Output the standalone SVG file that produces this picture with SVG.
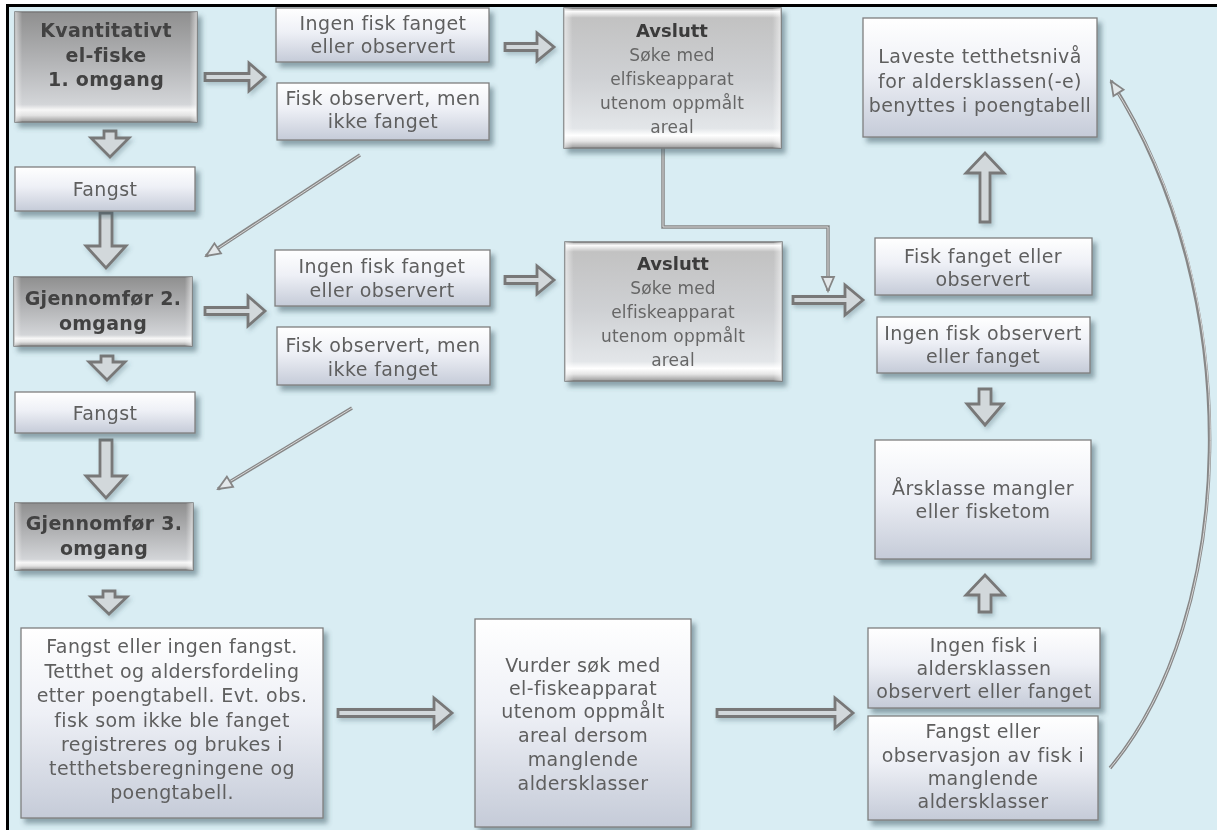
<svg xmlns="http://www.w3.org/2000/svg" width="1217" height="830" viewBox="0 0 1217 830">
<defs>
<style>
.t{font-family:"DejaVu Sans",Verdana,sans-serif;font-size:19px;fill:#5e5e5e;text-anchor:middle;letter-spacing:0.4px}
.b{font-family:"DejaVu Sans",Verdana,sans-serif;font-size:19px;font-weight:bold;fill:#424242;text-anchor:middle;letter-spacing:0.3px}
.a{font-family:"DejaVu Sans",Verdana,sans-serif;font-size:17px;fill:#666;text-anchor:middle;letter-spacing:0.2px}
.ab{font-family:"DejaVu Sans",Verdana,sans-serif;font-size:18px;font-weight:bold;fill:#3a3a3a;text-anchor:middle}
.lb{fill:url(#gLight);stroke:#7f7f7f;stroke-width:1.3}
.db{fill:url(#gDark);stroke:#7a7a7a;stroke-width:1.5}
.av{fill:url(#gAvs);stroke:#7a7a7a;stroke-width:1.5}
.side{fill:url(#gSide)}
.arw{fill:#d2d8db;stroke:#787878;stroke-width:2.8;stroke-linejoin:miter}
.ln1{fill:none;stroke:#878787;stroke-width:3.5}
.ln2{fill:none;stroke:#d8d8d8;stroke-width:1}
.mk{fill:none;stroke:none}
</style>
<linearGradient id="gLight" x1="0" y1="0" x2="0" y2="1">
<stop offset="0" stop-color="#ffffff"/>
<stop offset="0.45" stop-color="#eef0f6"/>
<stop offset="1" stop-color="#c5cbd8"/>
</linearGradient>
<linearGradient id="gDark" x1="0" y1="0" x2="0" y2="1">
<stop offset="0" stop-color="#8f8f8f"/>
<stop offset="0.45" stop-color="#b3b4b6"/>
<stop offset="0.84" stop-color="#d3d5d8"/>
<stop offset="0.89" stop-color="#f7f7f7"/>
<stop offset="0.94" stop-color="#e2e2e2"/>
<stop offset="1" stop-color="#9a9a9a"/>
</linearGradient>
<linearGradient id="gAvs" x1="0" y1="0" x2="0" y2="1">
<stop offset="0" stop-color="#a8a8a8"/>
<stop offset="0.025" stop-color="#fafafa"/>
<stop offset="0.07" stop-color="#c2c2c2"/>
<stop offset="0.5" stop-color="#cfd1d4"/>
<stop offset="0.86" stop-color="#e3e6e9"/>
<stop offset="0.91" stop-color="#ffffff"/>
<stop offset="0.95" stop-color="#e6e6e6"/>
<stop offset="1" stop-color="#9a9a9a"/>
</linearGradient>
<linearGradient id="gSide" x1="0" y1="0" x2="1" y2="0">
<stop offset="0" stop-color="#ffffff" stop-opacity="0.55"/>
<stop offset="0.04" stop-color="#ffffff" stop-opacity="0"/>
<stop offset="0.96" stop-color="#ffffff" stop-opacity="0"/>
<stop offset="1" stop-color="#ffffff" stop-opacity="0.55"/>
</linearGradient>
<filter id="sh" x="-10%" y="-10%" width="130%" height="130%">
<feGaussianBlur in="SourceAlpha" stdDeviation="2.5"/>
<feOffset dx="4" dy="5" result="o"/>
<feFlood flood-color="#3d5963" flood-opacity="0.5"/>
<feComposite in2="o" operator="in"/>
<feMerge><feMergeNode/><feMergeNode in="SourceGraphic"/></feMerge>
</filter>
<filter id="ash" x="-20%" y="-20%" width="150%" height="150%">
<feGaussianBlur in="SourceAlpha" stdDeviation="2"/>
<feOffset dx="2" dy="3" result="o"/>
<feFlood flood-color="#3d5963" flood-opacity="0.3"/>
<feComposite in2="o" operator="in"/>
<feMerge><feMergeNode/><feMergeNode in="SourceGraphic"/></feMerge>
</filter>
<marker id="tri" markerUnits="userSpaceOnUse" markerWidth="18" markerHeight="16" viewBox="0 0 18 16" refX="16" refY="8" orient="auto">
<path d="M2,2 L16,8 L2,14 Z" fill="#e3e8ea" stroke="#858585" stroke-width="1.8"/>
</marker>
</defs>
<rect x="0" y="0" width="1217" height="830" fill="#ffffff"/>
<rect x="9" y="7" width="1208" height="823" fill="#d9edf3"/>
<rect x="6" y="4" width="1211" height="3" fill="#000"/>
<rect x="6" y="4" width="3" height="826" fill="#000"/>

<g id="connectors">
<g filter="url(#ash)">
<path class="arw" d="M205,73.5 H249 V63 L265,77 L249,91 V80.5 H205 Z"/>
<path class="arw" d="M505,43.5 H537 V33 L554,47 L537,61 V50.5 H505 Z"/>
<path class="arw" d="M205,307.5 H248 V296 L265,311 L248,326 V314.5 H205 Z"/>
<path class="arw" d="M505,276.5 H537 V266 L554,280 L537,294 V283.5 H505 Z"/>
<path class="arw" d="M793,296.5 H845 V285 L863,300 L845,315 V303.5 H793 Z"/>
<path class="arw" d="M338,709.5 H434 V698 L452,713 L434,728 V716.5 H338 Z"/>
<path class="arw" d="M717,709.5 H835 V698 L853,713 L835,728 V716.5 H717 Z"/>
<path class="arw" d="M104,131 V138 H91 L110,157 L129,138 H116 V131 Z"/>
<path class="arw" d="M100,213 V246 H86 L106,268 L126,246 H112 V213 Z"/>
<path class="arw" d="M101,356 V362 H89 L107,380 L125,362 H113 V356 Z"/>
<path class="arw" d="M100,440 V476 H86 L106,498 L126,476 H112 V440 Z"/>
<path class="arw" d="M103,591 V597 H91 L109,614 L127,597 H115 V591 Z"/>
<path class="arw" d="M979,389 V404 H967 L985,425 L1003,404 H991 V389 Z"/>
<path class="arw" d="M979,612 V595 H966 L985,575 L1004,595 H991 V612 Z"/>
<path class="arw" d="M980,222 V173 H966 L985,153 L1004,173 H990 V222 Z"/>
</g>
<path class="ln1" d="M360,155 L206,256"/>
<path class="ln2" d="M360,155 L214,251"/>
<path class="mk" d="M360,155 L206,256" marker-end="url(#tri)"/>
<path class="ln1" d="M352,408 L218,489"/>
<path class="ln2" d="M352,408 L226,484"/>
<path class="mk" d="M352,408 L218,489" marker-end="url(#tri)"/>
<path class="ln1" d="M663,148 V227 H828 V291"/>
<path class="ln2" d="M663,148 V227 H828 V283"/>
<path class="mk" d="M663,148 V227 H828 V291" marker-end="url(#tri)"/>
<path class="ln1" d="M1110,768 C1235,620 1250,300 1111,81"/>
<path class="ln2" d="M1110,768 C1235,620 1250,300 1116,90"/>
<path class="mk" d="M1110,768 C1235,620 1250,300 1111,81" marker-end="url(#tri)"/>
</g>

<g id="n1" filter="url(#sh)">
<rect class="db" x="15" y="12" width="182" height="110"/>
<rect class="side" x="15" y="12" width="182" height="110"/>
<text class="b" x="106" y="37">Kvantitativt</text>
<text class="b" x="106" y="62">el-fiske</text>
<text class="b" x="106" y="86">1. omgang</text>
</g>
<g id="n2" filter="url(#sh)">
<rect class="lb" x="276" y="8" width="213" height="54"/>
<text class="t" x="383" y="30">Ingen fisk fanget</text>
<text class="t" x="383" y="53">eller observert</text>
</g>
<g id="n3" filter="url(#sh)">
<rect class="lb" x="277" y="83" width="212" height="57"/>
<text class="t" x="383" y="105">Fisk observert, men</text>
<text class="t" x="383" y="128">ikke fanget</text>
</g>
<g id="n4" filter="url(#sh)">
<rect class="av" x="564" y="8" width="217" height="140"/>
<rect class="side" x="564" y="8" width="217" height="140"/>
<text class="ab" x="672" y="37">Avslutt</text>
<text class="a" x="672" y="61">Søke med</text>
<text class="a" x="672" y="85">elfiskeapparat</text>
<text class="a" x="672" y="109">utenom oppmålt</text>
<text class="a" x="672" y="133">areal</text>
</g>
<g id="n5" filter="url(#sh)">
<rect class="lb" x="863" y="18" width="234" height="119"/>
<text class="t" x="980" y="63">Laveste tetthetsnivå</text>
<text class="t" x="980" y="88">for aldersklassen(-e)</text>
<text class="t" x="980" y="112">benyttes i poengtabell</text>
</g>
<g id="n6" filter="url(#sh)">
<rect class="lb" x="15" y="167" width="180" height="44"/>
<text class="t" x="105" y="196">Fangst</text>
</g>
<g id="n7" filter="url(#sh)">
<rect class="db" x="14" y="277" width="178" height="69"/>
<rect class="side" x="14" y="277" width="178" height="69"/>
<text class="b" x="103" y="305">Gjennomfør 2.</text>
<text class="b" x="103" y="330">omgang</text>
</g>
<g id="n8" filter="url(#sh)">
<rect class="lb" x="275" y="250" width="215" height="56"/>
<text class="t" x="382" y="273">Ingen fisk fanget</text>
<text class="t" x="382" y="297">eller observert</text>
</g>
<g id="n9" filter="url(#sh)">
<rect class="lb" x="277" y="327" width="213" height="58"/>
<text class="t" x="383" y="352">Fisk observert, men</text>
<text class="t" x="383" y="376">ikke fanget</text>
</g>
<g id="n10" filter="url(#sh)">
<rect class="av" x="565" y="242" width="217" height="139"/>
<rect class="side" x="565" y="242" width="217" height="139"/>
<text class="ab" x="673" y="270">Avslutt</text>
<text class="a" x="673" y="294">Søke med</text>
<text class="a" x="673" y="318">elfiskeapparat</text>
<text class="a" x="673" y="342">utenom oppmålt</text>
<text class="a" x="673" y="366">areal</text>
</g>
<g id="n11" filter="url(#sh)">
<rect class="lb" x="875" y="238" width="217" height="57"/>
<text class="t" x="983" y="263">Fisk fanget eller</text>
<text class="t" x="983" y="286">observert</text>
</g>
<g id="n12" filter="url(#sh)">
<rect class="lb" x="877" y="317" width="213" height="56"/>
<text class="t" x="983" y="340">Ingen fisk observert</text>
<text class="t" x="983" y="363">eller fanget</text>
</g>
<g id="n13" filter="url(#sh)">
<rect class="lb" x="875" y="440" width="216" height="119"/>
<text class="t" x="983" y="495">Årsklasse mangler</text>
<text class="t" x="983" y="518">eller fisketom</text>
</g>
<g id="n14" filter="url(#sh)">
<rect class="lb" x="15" y="392" width="180" height="41"/>
<text class="t" x="105" y="420">Fangst</text>
</g>
<g id="n15" filter="url(#sh)">
<rect class="db" x="15" y="503" width="178" height="67"/>
<rect class="side" x="15" y="503" width="178" height="67"/>
<text class="b" x="104" y="530">Gjennomfør 3.</text>
<text class="b" x="104" y="555">omgang</text>
</g>
<g id="n16" filter="url(#sh)">
<rect class="lb" x="21" y="628" width="302" height="190"/>
<text class="t" x="172" y="653">Fangst eller ingen fangst.</text>
<text class="t" x="172" y="678">Tetthet og aldersfordeling</text>
<text class="t" x="172" y="702">etter poengtabell. Evt. obs.</text>
<text class="t" x="172" y="727">fisk som ikke ble fanget</text>
<text class="t" x="172" y="751">registreres og brukes i</text>
<text class="t" x="172" y="775">tetthetsberegningene og</text>
<text class="t" x="172" y="799">poengtabell.</text>
</g>
<g id="n17" filter="url(#sh)">
<rect class="lb" x="475" y="619" width="216" height="208"/>
<text class="t" x="583" y="672">Vurder søk med</text>
<text class="t" x="583" y="695">el-fiskeapparat</text>
<text class="t" x="583" y="718">utenom oppmålt</text>
<text class="t" x="583" y="742">areal dersom</text>
<text class="t" x="583" y="766">manglende</text>
<text class="t" x="583" y="790">aldersklasser</text>
</g>
<g id="n18" filter="url(#sh)">
<rect class="lb" x="868" y="628" width="232" height="80"/>
<text class="t" x="984" y="652">Ingen fisk i</text>
<text class="t" x="984" y="675">aldersklassen</text>
<text class="t" x="984" y="698">observert eller fanget</text>
</g>
<g id="n19" filter="url(#sh)">
<rect class="lb" x="868" y="716" width="230" height="104"/>
<text class="t" x="983" y="738">Fangst eller</text>
<text class="t" x="983" y="762">observasjon av fisk i</text>
<text class="t" x="983" y="785">manglende</text>
<text class="t" x="983" y="808">aldersklasser</text>
</g>
</svg>
